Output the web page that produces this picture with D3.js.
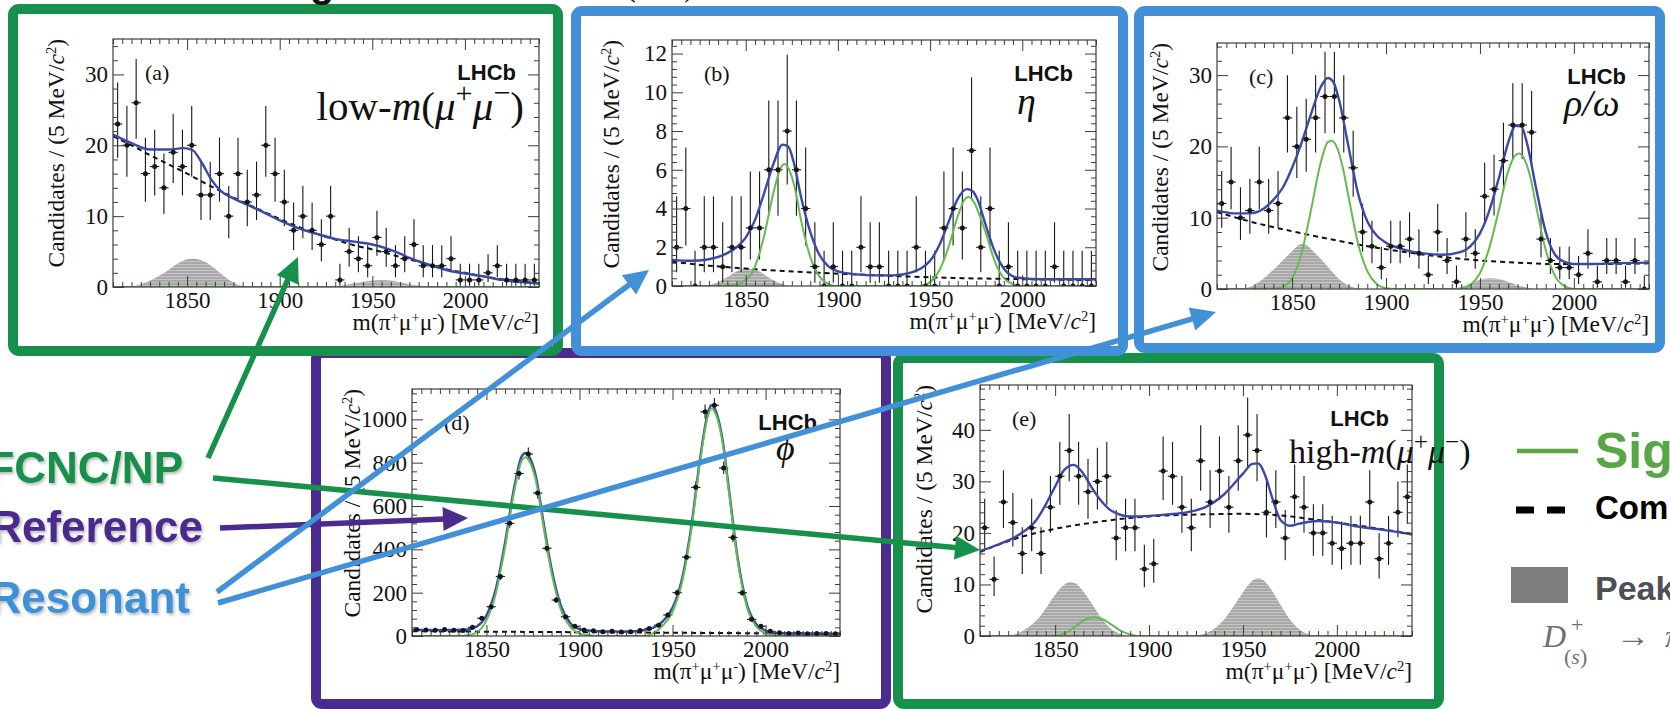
<!DOCTYPE html>
<html>
<head>
<meta charset="utf-8">
<title>m(π⁺μ⁺μ⁻) fits in five dimuon-mass regions</title>
<script src="https://cdn.jsdelivr.net/npm/d3@7/dist/d3.min.js"></script>
<style>
  html, body { margin: 0; padding: 0; background: #ffffff; }
  svg { display: block; }
</style>
</head>
<body>
<svg id="chart" width="1670" height="709"></svg>
<script>
// ---------------------------------------------------------------------------
// Histogram binning: 5 MeV/c^2 bins from 1810 to 2040 MeV/c^2 (bin centres)
// ---------------------------------------------------------------------------
const binCenters = [1812.5, 1817.5, 1822.5, 1827.5, 1832.5, 1837.5, 1842.5, 1847.5, 1852.5, 1857.5,
  1862.5, 1867.5, 1872.5, 1877.5, 1882.5, 1887.5, 1892.5, 1897.5, 1902.5, 1907.5,
  1912.5, 1917.5, 1922.5, 1927.5, 1932.5, 1937.5, 1942.5, 1947.5, 1952.5, 1957.5,
  1962.5, 1967.5, 1972.5, 1977.5, 1982.5, 1987.5, 1992.5, 1997.5, 2002.5, 2007.5,
  2012.5, 2017.5, 2022.5, 2027.5, 2032.5, 2037.5];
const massRange = [1810, 2040];
const xTickLabels = [1850, 1900, 1950, 2000];

// Candidates per bin
const countsA = [23, 20, 26, 16, 17, 14, 19, 17, 20, 13, 13, 16, 10, 16, 12, 13, 20, 16, 12, 8,
  10, 8, 6, 10, 1, 5, 4, 3, 7, 5, 3, 4, 6, 3, 3, 3, 4, 1, 1, 1, 2, 3, 1, 1, 1, 1];
const countsB = [2, 4, 0, 2, 2, 1, 2, 2, 3, 3, 6, 6, 8, 6, 4, 1, 0, 1, 0, 0,
  2, 1, 1, 0, 0, 0, 2, 0, 0, 3, 4, 3, 7, 2, 4, 0, 1, 0, 0, 0, 0, 1, 0, 0, 0, 0];
const countsC = [12, 15, 10, 11, 15, 11, 12, 24, 20, 21, 24, 27, 27, 24, 17, 8, 6, 3, 6, 6,
  7, 5, 2, 8, 4, 1, 7, 5, 13, 14, 18, 23, 23, 22, 7, 4, 3, 3, 2, 5, 1, 4, 4, 1, 4, 0];
const countsD = [30, 28, 26, 30, 27, 25, 40, 82, 135, 275, 520, 750, 840, 660, 405, 166, 89, 45, 28, 24,
  20, 22, 18, 20, 25, 35, 50, 97, 200, 364, 686, 1035, 1065, 775, 455, 200, 77, 45, 22, 15,
  12, 14, 10, 12, 11, 10];
const countsE = [21, 11, 26, 22, 16, 21, 16, 25, 31, 36, 31, 28, 30, 31, 19, 21, 21, 13, 14, 32,
  31, 25, 21, 34, 26, 32, 25, 34, 39, 36, 24, 26, 19, 27, 25, 20, 20, 18, 17, 18,
  18, 26, 15, 18, 24, 27];

// Y-axis tick labels
const yTicksA = [0, 10, 20, 30];
const yTicksB = [0, 2, 4, 6, 8, 10, 12];
const yTicksC = [0, 10, 20, 30];
const yTicksD = [0, 200, 400, 600, 800, 1000];
const yTicksE = [0, 10, 20, 30, 40];

// Fit projections, [mass, candidates / 5 MeV]
const totalA = [[1810, 21.5], [1820, 20.3], [1830, 19.4], [1840, 19.4], [1848, 19.6], [1853, 19.3], [1858, 17.5],
  [1863, 15.2], [1868, 13.6], [1875, 12.5], [1880, 11.9], [1890, 10.7], [1900, 9.4], [1910, 8.3], [1920, 7.5],
  [1930, 6.8], [1940, 6.4], [1950, 6.0], [1958, 5.4], [1965, 4.7], [1970, 4.1], [1980, 3.2], [1990, 2.4],
  [2000, 1.9], [2010, 1.5], [2020, 1.0], [2030, 0.7], [2040, 0.5]];
const bkgA = [[1810, 21.3], [1820, 20.0], [1830, 18.6], [1840, 17.3], [1850, 16.0], [1860, 14.6], [1870, 13.3],
  [1880, 12.0], [1890, 10.8], [1900, 9.6], [1910, 8.5], [1920, 7.5], [1930, 6.7], [1940, 5.9], [1950, 5.3],
  [1960, 4.6], [1970, 3.9], [1980, 3.2], [1990, 2.5], [2000, 2.0], [2010, 1.5], [2020, 1.1], [2030, 0.8], [2040, 0.5]];
const peakA = [[1810, 0], [1815, 0], [1820, 0.1], [1825, 0.4], [1830, 0.9], [1835, 1.6], [1840, 2.4], [1845, 3.3],
  [1850, 3.9], [1853, 4.0], [1856, 3.9], [1860, 3.5], [1865, 2.6], [1870, 1.5], [1875, 0.6], [1880, 0.15],
  [1885, 0], [1925, 0], [1930, 0.1], [1940, 0.5], [1950, 0.9], [1955, 1.0], [1960, 0.9], [1970, 0.4],
  [1980, 0.1], [1985, 0], [2040, 0]];
const sigA = [[1810, 0], [2040, 0]];

const totalB = [[1810, 1.35], [1820, 1.3], [1830, 1.38], [1840, 1.7], [1845, 2.0], [1850, 2.5], [1855, 3.4],
  [1860, 4.8], [1865, 6.3], [1870, 7.3], [1873, 7.2], [1876, 6.4], [1880, 4.6], [1885, 2.8], [1890, 1.6],
  [1895, 1.0], [1900, 0.75], [1910, 0.6], [1920, 0.55], [1930, 0.55], [1940, 0.7], [1945, 0.9], [1950, 1.3],
  [1955, 2.1], [1960, 3.3], [1965, 4.5], [1970, 5.0], [1973, 4.9], [1976, 4.4], [1980, 3.2], [1985, 1.8],
  [1990, 0.9], [1995, 0.5], [2000, 0.4], [2010, 0.35], [2040, 0.35]];
const bkgB = [[1810, 1.25], [1830, 1.05], [1850, 0.9], [1870, 0.78], [1890, 0.68], [1910, 0.6], [1930, 0.52],
  [1950, 0.45], [1970, 0.4], [1990, 0.37], [2010, 0.34], [2040, 0.3]];
const sigB = [[1810, 0], [1840, 0], [1850, 0.3], [1855, 1.0], [1860, 2.6], [1865, 4.8], [1869, 6.1], [1871, 6.3],
  [1874, 5.9], [1877, 4.9], [1880, 3.4], [1885, 1.5], [1890, 0.5], [1895, 0.1], [1900, 0], [1945, 0],
  [1950, 0.2], [1955, 0.8], [1960, 2.0], [1965, 3.6], [1969, 4.5], [1971, 4.6], [1974, 4.3], [1977, 3.6],
  [1980, 2.8], [1985, 1.3], [1990, 0.4], [1995, 0.1], [2000, 0], [2040, 0]];
const peakB = [[1810, 0], [1825, 0], [1830, 0.05], [1835, 0.2], [1840, 0.45], [1845, 0.75], [1850, 0.9],
  [1855, 0.85], [1860, 0.6], [1865, 0.3], [1870, 0.1], [1875, 0], [2040, 0]];

const totalC = [[1810, 11.0], [1820, 10.6], [1827, 10.6], [1835, 11.3], [1840, 12.5], [1845, 14.2], [1850, 17.0],
  [1855, 20.5], [1860, 24.5], [1865, 28.2], [1869, 29.6], [1872, 29.0], [1875, 26.5], [1880, 20.0],
  [1885, 13.5], [1890, 9.5], [1895, 7.5], [1900, 6.5], [1910, 5.5], [1920, 5.0], [1930, 4.8], [1940, 5.2],
  [1945, 6.0], [1950, 7.8], [1955, 11.0], [1960, 15.5], [1965, 20.5], [1969, 22.9], [1972, 22.8],
  [1975, 20.5], [1980, 14.0], [1985, 8.0], [1990, 4.8], [1995, 3.8], [2000, 3.5], [2010, 3.5], [2020, 3.6], [2040, 3.7]];
const bkgC = [[1810, 10.8], [1830, 9.3], [1850, 8.1], [1870, 7.0], [1890, 6.0], [1910, 5.2], [1930, 4.5],
  [1950, 4.0], [1970, 3.7], [1990, 3.5], [2010, 3.5], [2040, 3.6]];
const sigC = [[1810, 0], [1840, 0], [1845, 0.3], [1850, 1.5], [1855, 5.0], [1860, 11.0], [1865, 17.5],
  [1869, 20.6], [1871, 20.8], [1874, 19.8], [1877, 17.0], [1880, 13.0], [1885, 6.5], [1890, 2.5], [1895, 0.7],
  [1900, 0.1], [1905, 0], [1940, 0], [1945, 0.6], [1950, 2.2], [1955, 5.8], [1960, 11.0], [1965, 16.5],
  [1969, 18.8], [1971, 19.0], [1974, 18.0], [1977, 15.5], [1980, 11.5], [1985, 5.5], [1990, 1.8], [1995, 0.4],
  [2000, 0], [2040, 0]];
const peakC = [[1810, 0], [1820, 0], [1825, 0.1], [1830, 0.6], [1835, 1.5], [1840, 2.7], [1845, 4.0], [1850, 5.3],
  [1855, 6.3], [1858, 6.1], [1860, 5.6], [1865, 4.3], [1870, 2.8], [1875, 1.4], [1880, 0.5], [1885, 0.1],
  [1890, 0], [1935, 0], [1940, 0.3], [1945, 0.8], [1950, 1.3], [1955, 1.5], [1960, 1.4], [1965, 1.0],
  [1970, 0.5], [1975, 0.2], [1980, 0], [2040, 0]];

const totalD = [[1810, 28], [1825, 27], [1840, 30], [1845, 45], [1850, 95], [1855, 215], [1860, 430], [1865, 690],
  [1869, 830], [1871, 845], [1874, 810], [1877, 720], [1880, 560], [1885, 310], [1890, 140], [1895, 60],
  [1900, 32], [1910, 22], [1920, 20], [1930, 22], [1935, 28], [1940, 40], [1945, 70], [1950, 130], [1955, 260],
  [1960, 500], [1965, 830], [1969, 1030], [1971, 1065], [1974, 1020], [1977, 900], [1980, 700], [1985, 360],
  [1990, 145], [1995, 55], [2000, 25], [2005, 15], [2010, 12], [2040, 10]];
const bkgD = [[1810, 22], [1870, 19], [1930, 16], [1990, 13], [2040, 11]];
const sigD = [[1810, 0], [1835, 0], [1840, 3], [1845, 18], [1850, 72], [1855, 195], [1860, 410], [1865, 670],
  [1869, 810], [1871, 825], [1874, 790], [1877, 700], [1880, 540], [1885, 290], [1890, 122], [1895, 42],
  [1900, 12], [1905, 3], [1910, 0], [1935, 0], [1940, 15], [1945, 50], [1950, 112], [1955, 243], [1960, 484],
  [1965, 815], [1969, 1015], [1971, 1050], [1974, 1006], [1977, 886], [1980, 687], [1985, 348], [1990, 133],
  [1995, 43], [2000, 12], [2005, 3], [2010, 0], [2040, 0]];

const totalE = [[1810, 16.5], [1820, 17.8], [1830, 19.5], [1840, 22.5], [1845, 25.5], [1850, 29], [1855, 32.3],
  [1860, 33.2], [1865, 31.5], [1870, 28.5], [1875, 26.0], [1880, 24.3], [1890, 23.2], [1900, 23.3],
  [1910, 23.6], [1920, 24.0], [1930, 25.0], [1940, 27.5], [1950, 31.5], [1955, 33.4], [1958, 33.5],
  [1962, 31], [1965, 27.5], [1970, 22.5], [1975, 21.4], [1980, 21.8], [1990, 22.3], [2000, 22.0],
  [2010, 21.3], [2020, 20.8], [2030, 20.3], [2040, 19.7]];
const bkgE = [[1810, 16.3], [1830, 19.0], [1850, 20.8], [1870, 22.0], [1890, 22.9], [1910, 23.4], [1930, 23.6],
  [1950, 23.7], [1970, 23.4], [1990, 22.5], [2010, 21.5], [2040, 19.8]];
const peakE = [[1810, 0], [1820, 0], [1825, 0.1], [1830, 0.5], [1835, 1.5], [1840, 3.0], [1845, 5.3], [1850, 8.0],
  [1855, 10.0], [1858, 10.5], [1861, 10.2], [1865, 8.7], [1870, 6.0], [1875, 3.3], [1880, 1.3], [1885, 0.4],
  [1890, 0], [1920, 0], [1925, 0.1], [1930, 0.5], [1935, 1.5], [1940, 3.2], [1945, 5.7], [1950, 8.5],
  [1955, 10.7], [1958, 11.2], [1961, 10.8], [1965, 9.0], [1970, 6.0], [1975, 3.2], [1980, 1.3], [1985, 0.3],
  [1990, 0], [2040, 0]];
const sigE = [[1810, 0], [1850, 0], [1855, 0.5], [1860, 1.6], [1865, 3.0], [1870, 3.6], [1875, 3.3], [1880, 2.2],
  [1885, 1.0], [1890, 0.3], [1895, 0], [2040, 0]];

// Annotation texts
const categoryLabels = ['FCNC/NP', 'Reference', 'Resonant'];
const legendLabels = ['Signal', 'Combinatorial', 'Peaking background'];

// ---------------------------------------------------------------------------
// Styles
// ---------------------------------------------------------------------------
const SERIF = "'Liberation Serif', 'Times New Roman', Times, serif";
const SANS = "'Liberation Sans', Arial, Helvetica, sans-serif";
const COL = {
  fitBlue: '#3a48a8', fitGreen: '#64bb50', ink: '#161616', axis: '#3c3c3c',
  frameGreen: '#17904b', frameBlue: '#4190d8', framePurple: '#4b2b8e',
  legendGreen: '#58a645'
};
const TICK_FONT = 23;
const TITLE_FONT = 23.5;

const svg = d3.select('#chart');
const defs = svg.append('defs');

// grey fill with faint horizontal hatching for the peaking background
const hatch = defs.append('pattern').attr('id', 'hatch')
  .attr('patternUnits', 'userSpaceOnUse').attr('width', 8).attr('height', 3);
hatch.append('rect').attr('width', 8).attr('height', 3).attr('fill', '#a8a8a8');
hatch.append('rect').attr('width', 8).attr('height', 1).attr('fill', '#c4c4c4');

// soft drop shadow for the category labels
const soft = defs.append('filter').attr('id', 'soft')
  .attr('x', '-10%').attr('y', '-30%').attr('width', '130%').attr('height', '170%');
soft.append('feDropShadow').attr('dx', 1.5).attr('dy', 2).attr('stdDeviation', 1.6)
  .attr('flood-color', '#000').attr('flood-opacity', 0.28);

// Poisson (Garwood) 68% interval, Wilson–Hilferty form
function poissonLow(n) {
  if (n === 0) return 0;
  return n * Math.pow(1 - 1 / (9 * n) - 1 / (3 * Math.sqrt(n)), 3);
}
function poissonHigh(n) {
  const m = n + 1;
  return m * Math.pow(1 - 1 / (9 * m) + 1 / (3 * Math.sqrt(m)), 3);
}

// text with italic / super- / subscript runs
function rich(parent, parts, supSize) {
  const t = parent.append('text');
  parts.forEach(p => {
    const s = t.append('tspan').text(p.t);
    if (p.i) s.attr('font-style', 'italic');
    if (p.sup) s.attr('baseline-shift', 'super').attr('font-size', supSize || '62%');
    if (p.sub) s.attr('baseline-shift', 'sub').attr('font-size', supSize || '62%');
  });
  return t;
}

const yTitleParts = [{ t: 'Candidates / (5 MeV/' }, { t: 'c', i: 1 }, { t: '2', sup: 1 }, { t: ')' }];
const xTitleParts = [{ t: 'm(π' }, { t: '+', sup: 1 }, { t: 'μ' }, { t: '+', sup: 1 }, { t: 'μ' }, { t: '-', sup: 1 },
  { t: ') [MeV/' }, { t: 'c', i: 1 }, { t: '2', sup: 1 }, { t: ']' }];
const dimuon = [{ t: 'm', i: 1 }, { t: '(' }, { t: 'μ', i: 1 }, { t: '+', sup: 1 }, { t: 'μ', i: 1 }, { t: '−', sup: 1 }, { t: ')' }];

const panels = [
  { key: 'd', label: '(d)', counts: countsD, total: totalD, bkg: bkgD, sig: sigD, peak: null,
    yMax: 1140, yTicks: yTicksD, yMinor: 40, frame: [311, 348, 891, 709], color: COL.framePurple,
    plot: [412, 389, 840, 636], yTitleX: 352,
    decay: { parts: [{ t: 'ϕ', i: 1 }], x: 776, y: 460, anchor: 'start', size: 36 } },
  { key: 'e', label: '(e)', counts: countsE, total: totalE, bkg: bkgE, sig: sigE, peak: peakE,
    yMax: 48.7, yTicks: yTicksE, yMinor: 2, frame: [893, 353, 1444, 709], color: COL.frameGreen,
    plot: [980, 385, 1412, 636], yTitleX: 924,
    decay: { parts: [{ t: 'high-' }].concat(dimuon), x: 1289, y: 463, anchor: 'start', size: 34 } },
  { key: 'a', label: '(a)', counts: countsA, total: totalA, bkg: bkgA, sig: sigA, peak: peakA,
    yMax: 35, yTicks: yTicksA, yMinor: 2, frame: [8, 4, 563, 356], color: COL.frameGreen,
    plot: [113, 39, 539, 287], yTitleX: 56,
    decay: { parts: [{ t: 'low-' }].concat(dimuon), x: 524, y: 120, anchor: 'end', size: 41 } },
  { key: 'b', label: '(b)', counts: countsB, total: totalB, bkg: bkgB, sig: sigB, peak: peakB,
    yMax: 12.7, yTicks: yTicksB, yMinor: 0.4, frame: [571, 6, 1128, 356], color: COL.frameBlue,
    plot: [672, 40, 1096, 286], yTitleX: 611,
    decay: { parts: [{ t: 'η', i: 1 }], x: 1017, y: 114, anchor: 'start', size: 38 } },
  { key: 'c', label: '(c)', counts: countsC, total: totalC, bkg: bkgC, sig: sigC, peak: peakC,
    yMax: 34.5, yTicks: yTicksC, yMinor: 2, frame: [1134, 6, 1665, 353], color: COL.frameBlue,
    plot: [1217, 43, 1649, 289], yTitleX: 1160,
    decay: { parts: [{ t: 'ρ/ω', i: 1 }], x: 1564, y: 116, anchor: 'start', size: 38 } }
];

function styleAxis(sel, withText) {
  sel.select('.domain').remove();
  sel.selectAll('line').attr('stroke', COL.axis).attr('stroke-width', 1);
  if (withText) {
    sel.selectAll('text').attr('font-family', SERIF).attr('font-size', TICK_FONT).attr('fill', '#111');
  }
  sel.attr('font-family', null).attr('font-size', null);
}

function drawPanel(p) {
  const g = svg.append('g').attr('class', 'panel panel-' + p.key);
  const [fx0, fy0, fx1, fy1] = p.frame;
  const sw = 10;
  g.append('rect')
    .attr('x', fx0 + sw / 2).attr('y', fy0 + sw / 2)
    .attr('width', fx1 - fx0 - sw).attr('height', fy1 - fy0 - sw)
    .attr('rx', 6).attr('fill', '#fff').attr('stroke', p.color).attr('stroke-width', sw);

  const [L, T, R, B] = p.plot;
  const x = d3.scaleLinear().domain(massRange).range([L, R]);
  const y = d3.scaleLinear().domain([0, p.yMax]).range([B, T]);

  const clipId = 'clip-' + p.key;
  defs.append('clipPath').attr('id', clipId)
    .append('rect').attr('x', L).attr('y', T).attr('width', R - L).attr('height', B - T);
  const plot = g.append('g').attr('clip-path', `url(#${clipId})`);

  const line = d3.line().x(d => x(d[0])).y(d => y(d[1])).curve(d3.curveMonotoneX);
  const area = d3.area().x(d => x(d[0])).y0(y(0)).y1(d => y(d[1])).curve(d3.curveMonotoneX);

  if (p.peak) plot.append('path').datum(p.peak).attr('d', area).attr('fill', 'url(#hatch)');

  // data points with Poisson error bars
  const pts = binCenters.map((m, k) => ({ m, n: p.counts[k] }));
  const eb = plot.append('g').attr('stroke', COL.ink).attr('stroke-width', 1.1);
  eb.selectAll('line.h').data(pts).join('line').attr('class', 'h')
    .attr('x1', d => x(d.m - 2.5)).attr('x2', d => x(d.m + 2.5))
    .attr('y1', d => y(d.n)).attr('y2', d => y(d.n));
  eb.selectAll('line.v').data(pts).join('line').attr('class', 'v')
    .attr('x1', d => x(d.m)).attr('x2', d => x(d.m))
    .attr('y1', d => y(poissonLow(d.n))).attr('y2', d => y(poissonHigh(d.n)));

  plot.append('path').datum(p.bkg).attr('d', line).attr('fill', 'none')
    .attr('stroke', '#111').attr('stroke-width', 2).attr('stroke-dasharray', '5,4');
  plot.append('path').datum(p.total).attr('d', line).attr('fill', 'none')
    .attr('stroke', COL.fitBlue).attr('stroke-width', 2.4);
  plot.append('path').datum(p.sig).attr('d', line).attr('fill', 'none')
    .attr('stroke', COL.fitGreen).attr('stroke-width', 2);

  plot.append('g').selectAll('circle').data(pts).join('circle')
    .attr('cx', d => x(d.m)).attr('cy', d => y(d.n)).attr('r', 2.5).attr('fill', COL.ink);

  // axes: ticks on all four sides, pointing inwards
  const xMinor = d3.range(massRange[0], massRange[1] + 0.1, 5).filter(v => !xTickLabels.includes(v));
  const isMajor = v => p.yTicks.some(t => Math.abs(t - v) < 1e-6);
  const yMinor = d3.range(0, p.yMax, p.yMinor).map(v => +v.toFixed(4)).filter(v => !isMajor(v));

  g.append('g').attr('transform', `translate(0,${B})`)
    .call(d3.axisBottom(x).tickValues(xTickLabels).tickSize(-11).tickPadding(5).tickFormat(d3.format('d')))
    .call(s => styleAxis(s, true));
  g.append('g').attr('transform', `translate(0,${B})`)
    .call(d3.axisBottom(x).tickValues(xMinor).tickSize(-5).tickFormat(''))
    .call(s => styleAxis(s, false));
  g.append('g').attr('transform', `translate(0,${T})`)
    .call(d3.axisTop(x).tickValues(xTickLabels).tickSize(-11).tickFormat(''))
    .call(s => styleAxis(s, false));
  g.append('g').attr('transform', `translate(0,${T})`)
    .call(d3.axisTop(x).tickValues(xMinor).tickSize(-5).tickFormat(''))
    .call(s => styleAxis(s, false));
  g.append('g').attr('transform', `translate(${L},0)`)
    .call(d3.axisLeft(y).tickValues(p.yTicks).tickSize(-11).tickPadding(5).tickFormat(d3.format('d')))
    .call(s => styleAxis(s, true));
  g.append('g').attr('transform', `translate(${L},0)`)
    .call(d3.axisLeft(y).tickValues(yMinor).tickSize(-5).tickFormat(''))
    .call(s => styleAxis(s, false));
  g.append('g').attr('transform', `translate(${R},0)`)
    .call(d3.axisRight(y).tickValues(p.yTicks).tickSize(-11).tickFormat(''))
    .call(s => styleAxis(s, false));
  g.append('g').attr('transform', `translate(${R},0)`)
    .call(d3.axisRight(y).tickValues(yMinor).tickSize(-5).tickFormat(''))
    .call(s => styleAxis(s, false));

  g.append('rect').attr('x', L).attr('y', T).attr('width', R - L).attr('height', B - T)
    .attr('fill', 'none').attr('stroke', COL.axis).attr('stroke-width', 1.2);

  // titles and labels
  rich(g, yTitleParts)
    .attr('transform', `translate(${p.yTitleX + 8},${T}) rotate(-90)`)
    .attr('text-anchor', 'end').attr('font-family', SERIF).attr('font-size', TITLE_FONT).attr('fill', '#111');
  rich(g, xTitleParts)
    .attr('x', R).attr('y', B + 43).attr('text-anchor', 'end')
    .attr('font-family', SERIF).attr('font-size', TITLE_FONT).attr('fill', '#111');
  g.append('text').attr('x', L + 32).attr('y', T + 41)
    .attr('font-family', SERIF).attr('font-size', 22).attr('fill', '#111').text(p.label);
  g.append('text').attr('x', R - 23).attr('y', T + 41).attr('text-anchor', 'end')
    .attr('font-family', SANS).attr('font-weight', 'bold').attr('font-size', 22).attr('fill', '#111')
    .text('LHCb');
  rich(g, p.decay.parts, '74%')
    .attr('x', p.decay.x).attr('y', p.decay.y).attr('text-anchor', p.decay.anchor)
    .attr('font-family', SERIF).attr('font-size', p.decay.size).attr('fill', '#111');
}

panels.forEach(drawPanel);

// ---------------------------------------------------------------------------
// Arrows from the category labels to the panels
// ---------------------------------------------------------------------------
const arrows = [
  { from: [208, 458], to: [298, 257], color: COL.frameGreen },
  { from: [213, 478], to: [980, 550], color: COL.frameGreen },
  { from: [220, 528], to: [468, 518], color: COL.framePurple },
  { from: [217, 592], to: [649, 270], color: COL.frameBlue },
  { from: [218, 603], to: [1216, 312], color: COL.frameBlue }
];
const arrowLayer = svg.append('g').attr('class', 'arrows');
arrows.forEach(a => {
  const dx = a.to[0] - a.from[0], dy = a.to[1] - a.from[1];
  const len = Math.hypot(dx, dy), ux = dx / len, uy = dy / len;
  const headLen = 25, headHalf = 12;
  const bx = a.to[0] - ux * headLen, by = a.to[1] - uy * headLen;
  arrowLayer.append('line')
    .attr('x1', a.from[0]).attr('y1', a.from[1]).attr('x2', bx + ux * 2).attr('y2', by + uy * 2)
    .attr('stroke', a.color).attr('stroke-width', 5.5);
  arrowLayer.append('path')
    .attr('d', `M${a.to[0]},${a.to[1]} L${bx - uy * headHalf},${by + ux * headHalf} L${bx + uy * headHalf},${by - ux * headHalf} Z`)
    .attr('fill', a.color);
});

// ---------------------------------------------------------------------------
// Category labels (left)
// ---------------------------------------------------------------------------
const catStyle = [
  { x: 183, y: 483, color: COL.frameGreen },
  { x: 203, y: 542, color: COL.framePurple },
  { x: 190, y: 613, color: COL.frameBlue }
];
svg.append('g').attr('filter', 'url(#soft)')
  .selectAll('text').data(categoryLabels).join('text')
  .attr('x', (d, i) => catStyle[i].x).attr('y', (d, i) => catStyle[i].y)
  .attr('text-anchor', 'end').attr('font-family', SANS).attr('font-weight', 'bold')
  .attr('font-size', 44).attr('fill', (d, i) => catStyle[i].color).text(d => d);

// ---------------------------------------------------------------------------
// Legend (right, runs off the edge)
// ---------------------------------------------------------------------------
const lg = svg.append('g').attr('class', 'legend');
lg.append('line').attr('x1', 1517).attr('x2', 1578).attr('y1', 451).attr('y2', 451)
  .attr('stroke', COL.legendGreen).attr('stroke-width', 4.5);
lg.append('text').attr('x', 1595).attr('y', 468).attr('font-family', SANS).attr('font-weight', 'bold')
  .attr('font-size', 50).attr('fill', COL.legendGreen).text(legendLabels[0]);
lg.append('line').attr('x1', 1516).attr('x2', 1567).attr('y1', 510).attr('y2', 510)
  .attr('stroke', '#000').attr('stroke-width', 7).attr('stroke-dasharray', '18,13');
lg.append('text').attr('x', 1595).attr('y', 519).attr('font-family', SANS).attr('font-weight', 'bold')
  .attr('font-size', 33).attr('fill', '#000').text(legendLabels[1]);
lg.append('rect').attr('x', 1511).attr('y', 567).attr('width', 57).attr('height', 36).attr('fill', '#7d7d7d');
lg.append('text').attr('x', 1595).attr('y', 600).attr('font-family', SANS).attr('font-weight', 'bold')
  .attr('font-size', 34).attr('fill', '#4d4f57').text(legendLabels[2]);
const dsym = lg.append('g').attr('fill', '#6f6f6f').attr('font-family', SERIF);
dsym.append('text').attr('x', 1543).attr('y', 647).attr('font-size', 32).attr('font-style', 'italic').text('D');
dsym.append('text').attr('x', 1571).attr('y', 632).attr('font-size', 22).text('+');
const sub = dsym.append('text').attr('x', 1564).attr('y', 664).attr('font-size', 22);
sub.append('tspan').text('(');
sub.append('tspan').attr('font-style', 'italic').text('s');
sub.append('tspan').text(')');
dsym.append('text').attr('x', 1616).attr('y', 647).attr('font-size', 34).text('→');
dsym.append('text').attr('x', 1665).attr('y', 647).attr('font-size', 32).attr('font-style', 'italic').text('π');

// descenders of the slide heading above the figure
const head = svg.append('g').attr('fill', '#111');
head.append('text').attr('x', 310).attr('y', -3).attr('font-family', SANS).attr('font-weight', 'bold')
  .attr('font-size', 40).text('g');
head.append('text').attr('x', 624).attr('y', -5).attr('font-family', SERIF).attr('font-size', 36).text('(');
head.append('text').attr('x', 684).attr('y', -5).attr('font-family', SERIF).attr('font-size', 36).text(')');
</script>
</body>
</html>
